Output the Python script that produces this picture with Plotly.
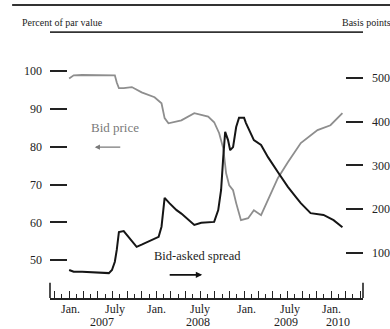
import plotly.graph_objects as go

# ---- data ----
price_dates = ["2007-01-01", "2007-01-20", "2007-02-24", "2007-05-01", "2007-07-11", "2007-07-19",
               "2007-07-28", "2007-08-17", "2007-09-20", "2007-10-31", "2007-12-24", "2008-01-22",
               "2008-02-04", "2008-02-20", "2008-04-14", "2008-06-07", "2008-07-06", "2008-08-04",
               "2008-08-29", "2008-09-19", "2008-10-06", "2008-10-18", "2008-10-31", "2008-11-16",
               "2008-11-29", "2008-12-19", "2009-01-18", "2009-02-11", "2009-03-13", "2009-04-11",
               "2009-05-22", "2009-07-03", "2009-08-26", "2009-11-04", "2009-12-28", "2010-02-16"]
bid_price = [98.1, 98.9, 99.0, 98.9, 98.9, 97.0,
             95.5, 95.5, 95.8, 94.4, 93.1, 91.5,
             87.6, 86.2, 87.0, 88.9, 88.4, 88.0,
             86.5, 83.6, 79.6, 73.0, 69.8, 68.5,
             65.1, 60.6, 61.1, 63.2, 61.9, 65.9,
             71.7, 75.9, 81.0, 84.4, 85.7, 88.9]

spread_dates = ["2007-01-01", "2007-01-20", "2007-02-24", "2007-04-27", "2007-06-16", "2007-06-29",
                "2007-07-11", "2007-07-19", "2007-07-28", "2007-08-17", "2007-09-07", "2007-10-10",
                "2007-10-31", "2007-12-12", "2008-01-10", "2008-01-22", "2008-02-04", "2008-02-24",
                "2008-03-25", "2008-04-14", "2008-06-07", "2008-07-06", "2008-08-29", "2008-09-15",
                "2008-09-27", "2008-10-06", "2008-10-14", "2008-10-26", "2008-11-04", "2008-11-16",
                "2008-11-29", "2008-12-11", "2009-01-01", "2009-01-09", "2009-02-11", "2009-03-13",
                "2009-04-11", "2009-05-22", "2009-07-03", "2009-08-05", "2009-08-26", "2009-10-06",
                "2009-11-29", "2010-01-10", "2010-02-16"]
bid_asked_spread = [61, 57, 57, 55, 54, 61,
                    80, 107, 148, 150, 137, 114,
                    119, 130, 137, 160, 226, 214,
                    198, 190, 164, 169, 171, 198,
                    244, 319, 377, 358, 335, 342,
                    388, 409, 409, 397, 358, 347,
                    319, 285, 251, 228, 214, 191,
                    187, 175, 159]

left_ticks = [50, 60, 70, 80, 90, 100]
right_ticks = [100, 200, 300, 400, 500]
month_labels = ["Jan.", "July", "Jan.", "July", "Jan.", "July", "Jan."]
month_label_dates = ["2007-01-05", "2007-07-10", "2008-01-01", "2008-07-01", "2009-01-11", "2009-07-10", "2010-01-01"]
year_labels = ["2007", "2008", "2009", "2010"]
year_label_dates = ["2007-05-17", "2008-06-22", "2009-06-26", "2010-01-30"]

SERIF = "Liberation Serif"
INK = "#222222"
GRAY = "#8e8e8e"

fig = go.Figure()
fig.add_trace(go.Scatter(x=price_dates, y=bid_price, mode="lines",
                         line=dict(color=GRAY, width=1.8), yaxis="y", showlegend=False))
fig.add_trace(go.Scatter(x=spread_dates, y=bid_asked_spread, mode="lines",
                         line=dict(color="#151515", width=2), yaxis="y2", showlegend=False))

annotations = []
for lab, d in zip(month_labels, month_label_dates):
    annotations.append(dict(x=d, y=-0.0435, xref="x", yref="paper", text=lab, showarrow=False,
                            font=dict(family=SERIF, size=12, color=INK), yanchor="middle"))
for lab, d in zip(year_labels, year_label_dates):
    annotations.append(dict(x=d, y=-0.0949, xref="x", yref="paper", text=lab, showarrow=False,
                            font=dict(family=SERIF, size=12, color=INK), yanchor="middle"))

annotations += [
    dict(x=-0.0958, y=1.087, xref="paper", yref="paper", text="Percent of par value", showarrow=False,
         xanchor="left", yanchor="middle", font=dict(family=SERIF, size=10, color=INK)),
    dict(x=0.926, y=1.087, xref="paper", yref="paper", text="Basis points", showarrow=False,
         xanchor="left", yanchor="middle", font=dict(family=SERIF, size=10, color=INK)),
    dict(x="2007-07-12", y=85.2, xref="x", yref="y", text="Bid price", showarrow=False,
         font=dict(family=SERIF, size=13, color="#7a7a7a")),
    dict(x="2007-04-18", y=79.9, xref="x", yref="y", text="", showarrow=True, ax=27, ay=0,
         arrowhead=2, arrowsize=0.8, arrowwidth=1.3, arrowcolor="#7a7a7a"),
    dict(x="2008-06-20", y=93, xref="x", yref="y2", text="Bid-asked spread", showarrow=False,
         font=dict(family=SERIF, size=12.5, color=INK)),
    dict(x="2008-07-10", y=50, xref="x", yref="y2", text="", showarrow=True, ax=-34, ay=0,
         arrowhead=2, arrowsize=0.8, arrowwidth=1.6, arrowcolor="#111111"),
]

shapes = [
    # top rule
    dict(type="line", xref="paper", yref="paper", x0=-0.121, x1=1.09, y0=1.158, y1=1.158,
         line=dict(color="#333333", width=2)),
    # underline under units
    dict(type="line", xref="paper", yref="paper", x0=0, x1=1, y0=1.051, y1=1.051,
         line=dict(color="#333333", width=1.6)),
    # tall end ticks of the time axis
    dict(type="line", xref="paper", yref="paper", x0=0, x1=0, y0=0, y1=0.06,
         line=dict(color=INK, width=1.6)),
    dict(type="line", xref="paper", yref="paper", x0=1, x1=1, y0=0, y1=0.06,
         line=dict(color=INK, width=1.6)),
]

fig.update_layout(
    width=390, height=329,
    margin=dict(l=50, r=27, t=45, b=31, autoexpand=False),
    paper_bgcolor="white", plot_bgcolor="white",
    showlegend=False,
    annotations=annotations, shapes=shapes,
    xaxis=dict(type="date", range=["2006-10-13", "2010-05-13"], showgrid=False, zeroline=False,
               showline=True, linecolor=INK, linewidth=2, automargin=False,
               ticks="inside", tick0="2007-01-01", dtick="M2", ticklen=7, tickwidth=1.3, tickcolor=INK,
               minor=dict(ticks="inside", dtick="M1", tick0="2007-01-01", ticklen=4, tickwidth=1.2, tickcolor=INK),
               showticklabels=False, fixedrange=True),
    yaxis=dict(range=[40, 106.93], tickvals=left_ticks, ticks="inside", ticklen=17, tickwidth=2,
               tickcolor=INK, showline=False, showgrid=False, zeroline=False, automargin=False,
               tickfont=dict(family=SERIF, size=12, color=INK), ticklabelstandoff=7),
    yaxis2=dict(range=[-2.9, 575.4], tickvals=right_ticks, ticks="inside", ticklen=17, tickwidth=2,
                tickcolor=INK, overlaying="y", side="right", showline=False, showgrid=False,
                zeroline=False, automargin=False,
                tickfont=dict(family=SERIF, size=12, color=INK), ticklabelstandoff=8),
)

fig.write_html("out.html", config={"displayModeBar": False},
               post_script="document.body.style.margin='0';document.body.style.overflow='hidden';")
